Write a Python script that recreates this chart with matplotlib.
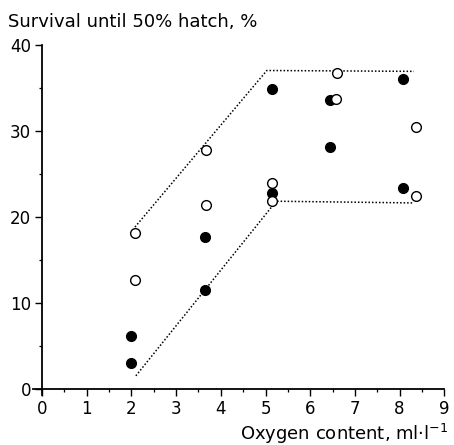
import matplotlib
matplotlib.use('Agg')
import matplotlib.pyplot as plt
from matplotlib.ticker import MultipleLocator

plt.rcParams['font.family'] = ['DejaVu Sans']

# filled circles
FILLED_X = [2.0, 2.0, 3.65, 3.65, 5.15, 6.45, 6.45, 8.07, 8.07, 5.15]
FILLED_Y = [6.1, 3.0, 17.6, 11.5, 34.8, 33.6, 28.1, 36.0, 23.3, 22.8]
# open circles
OPEN_X = [2.08, 2.08, 3.68, 3.67, 6.6, 6.57, 8.37, 5.15, 5.15, 8.37]
OPEN_Y = [18.1, 12.6, 27.8, 21.4, 36.7, 33.7, 30.4, 23.9, 21.8, 22.4]

# dotted envelope lines
UPPER_X = [2.08, 5.03, 8.32]
UPPER_Y = [18.8, 37.0, 36.9]
LOWER_X = [2.10, 5.24, 8.32]
LOWER_Y = [1.5, 21.8, 21.6]

XLIM = (-0.2, 9)
YLIM = (-0.7, 40)

fig = plt.figure(figsize=(4.54, 4.45), dpi=100)
# pixel geometry: x=0 at 42px, 44.7 px/unit; y=0 at 388.7px, 8.6 px/unit
x0, sx = 42.0, 44.7
y0, sy = 388.7, 8.6
left = x0 + XLIM[0] * sx
right = x0 + XLIM[1] * sx
top = y0 - YLIM[1] * sy
bottom = y0 - YLIM[0] * sy
ax = fig.add_axes([left / 454, (445 - bottom) / 445,
                   (right - left) / 454, (bottom - top) / 445])

ax.plot(UPPER_X, UPPER_Y, linestyle=(0, (1, 1.3)), color='black', lw=1.1)
ax.plot(LOWER_X, LOWER_Y, linestyle=(0, (1, 1.3)), color='black', lw=1.1)
ax.plot(FILLED_X, FILLED_Y, 'o', ms=7, mfc='black', mec='black', mew=1.0,
        linestyle='none', zorder=3)
ax.plot(OPEN_X, OPEN_Y, 'o', ms=7, mfc='white', mec='black', mew=1.0,
        linestyle='none', zorder=4)

ax.set_xlim(*XLIM)
ax.set_ylim(*YLIM)
ax.spines['top'].set_visible(False)
ax.spines['right'].set_visible(False)
ax.spines['left'].set_position(('data', 0))
ax.spines['bottom'].set_position(('data', 0))
for s in ('left', 'bottom'):
    ax.spines[s].set_linewidth(1.3)

ax.set_xticks(range(0, 10))
ax.set_yticks(range(0, 41, 10))
ax.xaxis.set_minor_locator(MultipleLocator(0.5))
ax.yaxis.set_minor_locator(MultipleLocator(5))
ax.tick_params(which='major', direction='out', length=5, width=1.0,
               labelsize=12, pad=3)
ax.tick_params(which='minor', direction='out', length=2.5, width=0.9)

fig.text(8 / 454, 1 - 27 / 445, 'Survival until 50% hatch, %', fontsize=13,
         ha='left', va='baseline')
fig.text(448 / 454, 1 - 440 / 445, 'Oxygen content, ml·l$^{-1}$',
         fontsize=13, ha='right', va='baseline')

fig.savefig('out.png', dpi=100)
